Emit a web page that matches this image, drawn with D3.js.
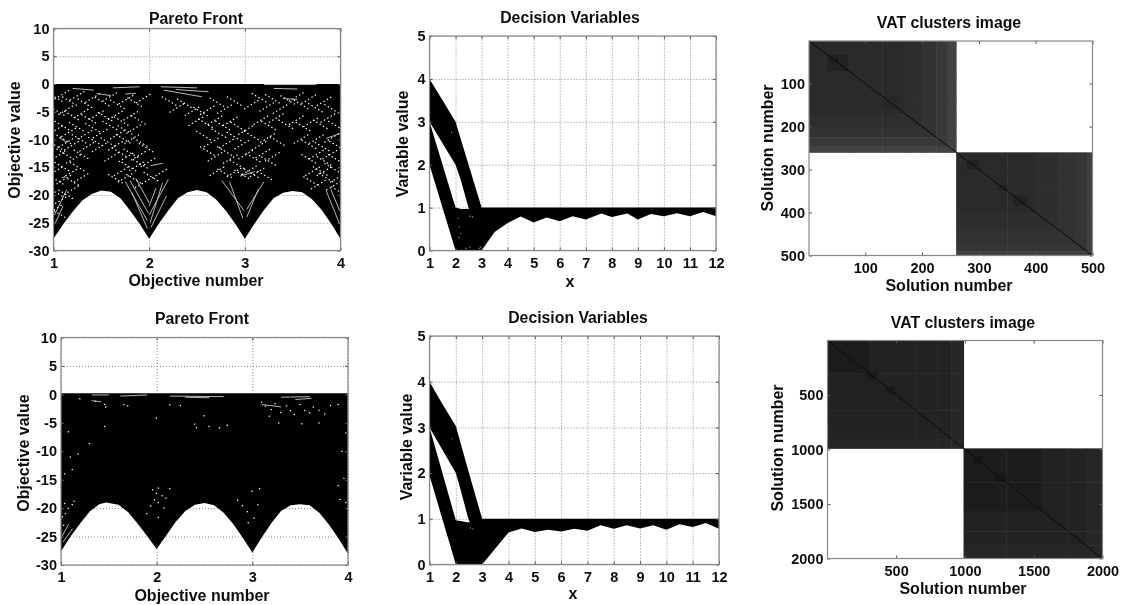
<!DOCTYPE html>
<html lang="en">
<head>
<meta charset="UTF-8">
<title>Pareto fronts, decision variables and VAT images</title>
<script src="https://d3js.org/d3.v7.min.js"></script>
<style>
    body { margin: 0; background: #fff; }
    text { font-family: "Liberation Sans", Arial, sans-serif; font-weight: bold; fill: #111; }
    .axis path { display: none; }
    .axis line { stroke: #555; }
    .axis text { font-size: 14.5px; font-family: "Liberation Sans", Arial, sans-serif; font-weight: bold; fill: #111; }
    .grid path { display: none; }
    .grid line { stroke: #888; stroke-dasharray: 1 2; }
    .grid text { display: none; }
</style>
</head>
<body>
<svg id="chart" width="1125" height="605"></svg>
<script>
// tick labels
const objectiveTicks = [1, 2, 3, 4];
const objectiveValueTicks = [-30, -25, -20, -15, -10, -5, 0, 5, 10];
const variableTicks = [1, 2, 3, 4, 5, 6, 7, 8, 9, 10, 11, 12];
const variableValueTicks = [0, 1, 2, 3, 4, 5];
const solutionTicks500 = [100, 200, 300, 400, 500];
const solutionTicks2000 = [500, 1000, 1500, 2000];

// Pareto front, lower edge of the bundle of lines [objective, value]
const paretoLowerTop = [[1, -27.8], [1.05, -26.6], [1.1, -25.3], [1.2, -23], [1.3, -21], [1.4, -19.8], [1.5, -19.2], [1.6, -19.4], [1.7, -20.6], [1.8, -22.8], [1.9, -25.2], [2, -27.9], [2.1, -25.2], [2.2, -22.8], [2.3, -20.6], [2.4, -19.5], [2.5, -19.1], [2.6, -19.5], [2.7, -20.8], [2.8, -22.8], [2.9, -25.2], [3, -27.9], [3.1, -25.2], [3.2, -22.7], [3.3, -20.6], [3.4, -19.6], [3.5, -19.3], [3.6, -19.5], [3.7, -20.7], [3.8, -22.6], [3.9, -25.1], [4, -27.9]];
const paretoLowerBottom = [[1, -27.6], [1.1, -25], [1.2, -22.7], [1.3, -20.6], [1.4, -19.3], [1.47, -19], [1.6, -19.4], [1.7, -20.7], [1.8, -22.7], [1.9, -24.9], [2, -27.2], [2.1, -24.8], [2.2, -22.4], [2.3, -20.5], [2.4, -19.4], [2.5, -19.1], [2.6, -19.5], [2.7, -20.8], [2.8, -22.8], [2.9, -25.2], [3, -27.8], [3.1, -25.1], [3.2, -22.6], [3.3, -20.5], [3.4, -19.5], [3.5, -19.3], [3.6, -19.5], [3.7, -20.8], [3.8, -22.9], [3.9, -25.3], [4, -28]];
const paretoTopEdge = [[1, 0], [2, 0], [3, 0], [4, 0]];
const paretoTopEdgeBottom = [[1, 0.2], [2, 0.2], [3, 0.2], [4, 0.2]];

// light gaps between the lines, top row [objective, value]
const specksTop = [
  [1.03, -2.5], [1.1, -1.8], [1.18, -3.2], [1.26, -2], [1.34, -3.6], [1.42, -2.4], [1.52, -3.3], [1.6, -2.2], [1.68, -3.8], [1.77, -2.7], [1.86, -3.4], [1.95, -2.5],
  [1.05, -5], [1.14, -4.6], [1.2, -5.8], [1.3, -5.2], [1.38, -6.4], [1.46, -5.5], [1.55, -6], [1.66, -5.5], [1.72, -6.8], [1.82, -5.6], [1.9, -6.6],
  [1.03, -8.2], [1.1, -7.6], [1.17, -8.6], [1.25, -7.8], [1.34, -9], [1.42, -8], [1.5, -8.8], [1.6, -7.6], [1.68, -9], [1.76, -8.4], [1.85, -8],
  [1.12, -10.1], [1.14, -10.5], [1.06, -11.5], [1.2, -11], [1.28, -10], [1.36, -11.2], [1.45, -10.5], [1.49, -11.3], [1.58, -10.6], [1.66, -11], [1.74, -10], [1.83, -9.8], [1.92, -10.6],
  [1.04, -13], [1.12, -12.6], [1.22, -13.4], [1.3, -12.8], [1.62, -13], [1.7, -12.4], [1.77, -13.1], [1.82, -12.6], [1.9, -12.8], [1.98, -11.6],
  [1.03, -15.6], [1.1, -15], [1.18, -16], [1.26, -15], [1.72, -15.6], [1.8, -15], [1.88, -14.7], [1.92, -14.5], [2.0, -14],
  [1.04, -17.4], [1.12, -17.1], [1.2, -17.6], [1.3, -16.8], [1.66, -17.2], [1.76, -16.8], [1.85, -17.2], [1.94, -17.8], [2.03, -16.8], [2.12, -16],
  [1.03, -19.6], [1.07, -21], [1.14, -20], [1.02, -22.5], [1.06, -23.4], [1.2, -19],
  [2.22, -3.2], [2.3, -4.2], [2.38, -3.6], [2.46, -4.8], [2.55, -5.1], [2.62, -4.6], [2.72, -3.4], [2.8, -4.4], [2.9, -3.2],
  [2.5, -6.6], [2.6, -7.2], [2.7, -6.4], [2.78, -7.6], [2.86, -6.6], [2.94, -7.8], [3.02, -8.2],
  [2.58, -9.4], [2.66, -10.4], [2.74, -9], [2.82, -10.6], [2.9, -9.6], [2.98, -10.8], [3.08, -9.4], [3.16, -11],
  [2.62, -12.2], [2.7, -13], [2.8, -12.2], [2.86, -13.4], [2.93, -14.6], [3.02, -12.6], [3.1, -13.4], [3.2, -12.4], [3.26, -14],
  [2.72, -15.6], [2.8, -16.2], [2.9, -15.8], [2.98, -16.4], [3.06, -15.4], [3.08, -16.2], [3.14, -15.8], [3.22, -16.6],
  [3.08, -3.6], [3.16, -2.6], [3.24, -4], [3.3, -2.8], [3.38, -4.4], [3.46, -3], [3.55, -2.2], [3.6, -3.8], [3.68, -2.6], [3.75, -4.4], [3.84, -3], [3.92, -4.6],
  [3.18, -6.4], [3.26, -7.6], [3.34, -6], [3.44, -7.4], [3.55, -6.4], [3.62, -7.8], [3.7, -6.8], [3.8, -7.4], [3.88, -6], [3.96, -7.6],
  [3.25, -9.6], [3.35, -10.4], [3.6, -9.8], [3.68, -11], [3.76, -9.8], [3.82, -11.4], [3.92, -9.6], [3.97, -11.2],
  [3.3, -13], [3.68, -13.6], [3.76, -12.6], [3.84, -14], [3.9, -12.6], [3.96, -13.6], [3.72, -15.6], [3.8, -15.8], [3.84, -15.6], [3.92, -15.2], [3.98, -16.8],
  [3.7, -17.6], [3.78, -18], [3.86, -17], [3.94, -18.2], [3.99, -19.4]
];

// longer light streaks, top row [objective1, value1, objective2, value2]
const streaksTop = [
  [1.2, -0.8, 1.42, -1.1], [1.62, -0.7, 1.9, -0.5], [1.75, -1.8, 1.86, -1.7], [1.45, -1.7, 1.6, -2.1],
  [2.12, -0.5, 2.5, -0.7], [2.15, -1.1, 2.55, -2.3], [2.28, -1, 2.62, -1.4], [3.2, -0.1, 3.75, -0.1], [3.3, -0.8, 3.55, -0.9], [3.4, -2.6, 3.55, -2.8],
  [3.85, -9.8, 4, -8.9], [1.06, -9.7, 1.14, -10.5], [2.02, -14.7, 2.14, -14.3], [2.95, -16.6, 3.1, -15.8],
  [1.75, -17.6, 1.98, -24.6], [1.8, -17.4, 1.99, -23.2], [1.86, -17, 2, -21.4], [2.2, -17.2, 2, -23.6], [2.14, -17.8, 2.01, -25], [2.07, -18.8, 2, -22],
  [1.82, -19.6, 1.98, -26], [2.18, -20.2, 2.02, -25.8], [2.76, -17.4, 2.99, -22.8], [2.84, -17.6, 2.98, -24.2], [3.2, -17.6, 3.02, -22.6], [3.14, -19, 3.02, -24],
  [3.85, -19.2, 3.99, -25.2], [3.9, -19, 3.99, -22.8], [1.1, -22, 1.02, -25], [1.14, -19, 1.01, -23.6]
];

// light gaps, bottom row
const specksBottom = [
  [1.2, -0.8], [1.36, -1.2], [1.46, -1.8], [1.47, -2.2], [1.66, -1.8], [1.7, -2], [2.0, -4.2], [2.14, -1.8], [2.25, -2], [2.4, -5.2], [2.42, -5.9], [2.55, -5.6], [2.66, -5.9], [2.74, -5.4], [2.5, -3.8], [1.46, -5.6], [1.08, -6.6], [1.3, -8.6],
  [3.1, -1.4], [3.14, -2], [3.2, -2.7], [3.24, -1.6], [3.3, -3.2], [3.36, -2], [3.4, -2.9], [3.44, -3.5], [3.5, -1.8], [3.55, -2.8], [3.6, -3.3], [3.64, -2.2], [3.7, -2.8], [3.76, -3.4], [3.82, -2], [3.18, -3.8], [3.9, -1.8], [3.28, -5], [3.52, -5.2], [3.7, -5],
  [1.04, -14], [1.12, -13.2], [1.18, -10.5], [1.1, -11], [1.96, -16.8], [2.0, -17.4], [2.02, -16.5], [2.06, -17.8], [1.98, -18.6], [2.1, -18.2], [2.14, -16.6], [2.02, -19], [2.08, -20], [1.94, -19.6], [1.9, -21], [2.02, -21.6],
  [1.04, -19.2], [1.08, -20], [1.12, -19.4], [1.02, -21.5], [1.05, -21], [1.03, -23], [1.14, -18.8],
  [2.85, -18.6], [2.9, -19.6], [2.95, -20.6], [3.02, -21.8], [3.06, -19.4], [2.96, -22.6], [3, -17], [3.08, -16.6], [3.9, -16], [3.96, -14.8], [3.98, -19], [3.92, -18.5], [3.94, -10], [3.98, -6.8]
];
const streaksBottom = [
  [1.32, -0.1, 1.5, -0.1], [1.62, -0.3, 1.9, -0.1], [1.32, -1.1, 1.42, -1.3], [2.14, -0.3, 2.7, -0.4], [2.3, -0.5, 2.55, -0.6], [3.3, -0.5, 3.6, -0.4], [3.45, -0.9, 3.62, -0.7], [3.1, -1.8, 3.3, -2.2],
  [1.01, -25, 1.08, -22.8], [1.02, -26, 1.12, -23.6]
];

// Decision variables, outer edges of the bundles [x, value]
const topUpperBand = [[1, 4], [1.5, 3.5], [2, 3], [2.5, 2], [3, 1], [2.6, 0.8], [2.45, 1.1], [2.2, 1.65], [2, 2], [1.5, 2.5], [1, 3]];
const topLowerBand = [[1, 3], [2, 1], [2.2, 0.97], [2.5, 0.97], [3, 1], [4, 1], [5, 1], [6, 1], [7, 1], [8, 1], [9, 1], [10, 1], [11, 1], [12, 1], [12, 0.8], [11.5, 0.9], [11, 0.8], [10.5, 0.87], [10, 0.8], [9.5, 0.85], [9, 0.72], [8.6, 0.86], [8, 0.78], [7.6, 0.86], [7, 0.72], [6.5, 0.8], [6, 0.68], [5.5, 0.77], [5, 0.65], [4.5, 0.79], [4, 0.64], [3.5, 0.43], [3, 0], [2, 0], [1, 2]];
const bottomUpperBand = [[1, 4], [1.5, 3.5], [2, 3.03], [2.5, 2], [3, 1], [2.6, 0.8], [2.45, 1.05], [2.2, 1.6], [2, 2], [1.5, 2.5], [1, 3]];
const bottomLowerBand = [[1, 3], [2, 0.97], [2.5, 0.92], [3, 1], [4, 1], [5, 1], [6, 1], [7, 1], [8, 1], [9, 1], [10, 1], [11, 1], [12, 1], [12, 0.78], [11.5, 0.91], [11, 0.82], [10.5, 0.88], [10, 0.76], [9.5, 0.86], [9, 0.79], [8.5, 0.86], [8, 0.78], [7.5, 0.86], [7, 0.74], [6.5, 0.78], [6, 0.72], [5.5, 0.76], [5, 0.71], [4.5, 0.79], [4, 0.7], [3, 0], [2, 0], [1, 1.95]];
const variableSpecks = [[2.1, 0.75], [2.15, 0.55], [2.2, 0.4], [2.12, 0.3], [2.4, 0.05], [2.55, 0.08], [2.9, 0.05], [2.95, 0.08], [1.85, 2.75], [2.55, 0.8], [2.65, 0.78]];

// VAT images, band edges along each cluster and their dissimilarity
const vatBreaks500 = [1, 80, 130, 170, 200, 225, 245, 260, 300, 350, 400, 440, 470, 490, 500];
const vatLevels500 = [0.16, 0.17, 0.17, 0.18, 0.19, 0.22, 0.26, 0.16, 0.16, 0.17, 0.18, 0.19, 0.21, 0.25];
const vatDarkSpots500 = [[33, 70, 0.135], [38, 52, 0.1], [130, 160, 0.15], [278, 300, 0.14], [335, 350, 0.13], [360, 385, 0.125]];
const vatClusters500 = [[1, 260], [260, 500]];
const vatBreaks2000 = [1, 300, 640, 800, 900, 990, 1300, 1560, 1750, 1880, 2000];
const vatLevels2000 = [0.12, 0.13, 0.13, 0.14, 0.15, 0.11, 0.12, 0.13, 0.14, 0.15];
const vatDarkSpots2000 = [[280, 360, 0.105], [420, 490, 0.105], [1060, 1130, 0.095], [1220, 1300, 0.095]];
const vatClusters2000 = [[1, 990], [990, 2000]];

const svg = d3.select("#chart");

const defs = svg.append("defs");
defs.append("filter")
    .attr("id", "soft")
    .attr("filterUnits", "userSpaceOnUse")
    .attr("x", 0).attr("y", 0).attr("width", 1125).attr("height", 605)
    .append("feGaussianBlur")
    .attr("stdDeviation", 0.55);

const root = svg.append("g").attr("filter", "url(#soft)");

function addText(str, x, y, size, rotate) {
    const t = root.append("text")
        .attr("text-anchor", "middle")
        .attr("dy", ".35em")
        .style("font-size", size + "px")
        .text(str);
    if (rotate) t.attr("transform", `translate(${x},${y}) rotate(-90)`);
    else t.attr("x", x).attr("y", y);
}

// one plot frame with its axes; returns a group for the marks
function makePanel(box, xScale, yScale, xTicks, yTicks, withGrid) {
    const w = box.right - box.left;
    const h = box.bottom - box.top;
    const g = root.append("g").attr("transform", `translate(${box.left},${box.top})`);
    xScale.range([0, w]);
    yScale.range(withGrid ? [h, 0] : [0, h]); // the image panels count downward

    if (withGrid) {
        g.append("g").attr("class", "grid")
            .attr("transform", `translate(0,${h})`)
            .call(d3.axisBottom(xScale).tickValues(xTicks).tickSize(-h));
        g.append("g").attr("class", "grid")
            .call(d3.axisLeft(yScale).tickValues(yTicks).tickSize(-w));
    }
    const marks = g.append("g");
    const label = d => String(d);
    g.append("g").attr("class", "axis")
        .attr("transform", `translate(0,${h})`)
        .call(d3.axisBottom(xScale).tickValues(xTicks).tickFormat(label).tickSizeInner(-3).tickSizeOuter(0).tickPadding(7));
    g.append("g").attr("class", "axis")
        .call(d3.axisLeft(yScale).tickValues(yTicks).tickFormat(label).tickSizeInner(-3).tickSizeOuter(0).tickPadding(4));
    // the box repeats the ticks along its top and right
    g.append("g").attr("class", "axis")
        .call(d3.axisTop(xScale).tickValues(xTicks).tickFormat("").tickSizeInner(-3).tickSizeOuter(0));
    g.append("g").attr("class", "axis")
        .attr("transform", `translate(${w},0)`)
        .call(d3.axisRight(yScale).tickValues(yTicks).tickFormat("").tickSizeInner(-3).tickSizeOuter(0));
    g.append("rect")
        .attr("width", w).attr("height", h)
        .attr("fill", "none")
        .attr("stroke", "#888")
        .attr("stroke-width", 1.2);
    return marks;
}

function drawPareto(box, lower, upper, specks, streaks, trail) {
    const x = d3.scaleLinear().domain([1, 4]);
    const y = d3.scaleLinear().domain([-30, 10]);
    const marks = makePanel(box, x, y, objectiveTicks, objectiveValueTicks, true);

    const line = d3.line().x(d => x(d[0])).y(d => y(d[1]));
    marks.append("path")
        .attr("d", line(upper.concat(lower.slice().reverse())) + "Z")
        .attr("fill", "#000");

    // each gap is drawn as a short dotted run, the lines leave strings of small holes
    marks.selectAll(".speck").data(specks).enter().append("line")
        .attr("class", "speck")
        .attr("x1", d => x(d[0]) - trail)
        .attr("x2", d => x(d[0]) + trail)
        .attr("y1", (d, i) => y(d[1]) + (i % 2 ? trail * 0.6 : -trail * 0.6))
        .attr("y2", (d, i) => y(d[1]) + (i % 2 ? -trail * 0.6 : trail * 0.6))
        .attr("stroke", "#fff")
        .attr("stroke-width", 1.3)
        .attr("stroke-linecap", "round")
        .attr("stroke-dasharray", "0.3 3.6");

    marks.selectAll(".streak").data(streaks).enter().append("line")
        .attr("class", "streak")
        .attr("x1", d => x(d[0])).attr("y1", d => y(d[1]))
        .attr("x2", d => x(d[2])).attr("y2", d => y(d[3]))
        .attr("stroke", "#ccc")
        .attr("stroke-width", 0.9);
}

function drawVariables(box, upperBand, lowerBand, specks) {
    const x = d3.scaleLinear().domain([1, 12]);
    const y = d3.scaleLinear().domain([0, 5]);
    const marks = makePanel(box, x, y, variableTicks, variableValueTicks, true);
    const line = d3.line().x(d => x(d[0])).y(d => y(d[1]));
    [upperBand, lowerBand].forEach(band => {
        marks.append("path").attr("d", line(band) + "Z").attr("fill", "#000");
    });
    marks.selectAll(".speck").data(specks).enter().append("circle")
        .attr("class", "speck")
        .attr("cx", d => x(d[0]))
        .attr("cy", d => y(d[1]))
        .attr("r", 0.7)
        .attr("fill", "#999");
}

function drawVat(box, n, ticks, breaks, levels, spots, clusters) {
    const x = d3.scaleLinear().domain([1, n]);
    const y = d3.scaleLinear().domain([1, n]);
    const marks = makePanel(box, x, y, ticks, ticks, false);
    const gray = d3.scaleLinear().domain([0, 1]).range(["#000", "#fff"]);

    clusters.forEach(c => {
        const cells = [];
        levels.forEach((li, i) => {
            levels.forEach((lj, j) => {
                if (breaks[i] >= c[0] && breaks[i + 1] <= c[1] && breaks[j] >= c[0] && breaks[j + 1] <= c[1]) {
                    cells.push({ x0: breaks[i], x1: breaks[i + 1], y0: breaks[j], y1: breaks[j + 1], v: Math.max(li, lj) });
                }
            });
        });
        marks.selectAll(null).data(cells).enter().append("rect")
            .attr("x", d => x(d.x0))
            .attr("y", d => y(d.y0))
            .attr("width", d => x(d.x1) - x(d.x0) + 0.5)
            .attr("height", d => y(d.y1) - y(d.y0) + 0.5)
            .attr("fill", d => gray(d.v));
    });

    marks.selectAll(".spot").data(spots).enter().append("rect")
        .attr("class", "spot")
        .attr("x", d => x(d[0]))
        .attr("y", d => y(d[0]))
        .attr("width", d => x(d[1]) - x(d[0]))
        .attr("height", d => y(d[1]) - y(d[0]))
        .attr("fill", d => gray(d[2]));

    marks.selectAll(".diag").data(clusters).enter().append("line")
        .attr("class", "diag")
        .attr("x1", d => x(d[0])).attr("y1", d => y(d[0]))
        .attr("x2", d => x(d[1])).attr("y2", d => y(d[1]))
        .attr("stroke", gray(0.04))
        .attr("stroke-width", 1);
}

drawPareto({ left: 53.5, right: 340.5, top: 28.5, bottom: 250.5 }, paretoLowerTop, paretoTopEdge, specksTop, streaksTop, 8);
addText("Pareto Front", 196, 18, 15.8);
addText("Objective number", 196, 280, 16);
addText("Objective value", 14, 140, 16, true);

drawVariables({ left: 429.5, right: 716, top: 36, bottom: 250.5 }, topUpperBand, topLowerBand, variableSpecks);
addText("Decision Variables", 570, 17, 15.8);
addText("x", 570, 281, 16);
addText("Variable value", 402, 144, 16, true);

drawVat({ left: 809, right: 1092.5, top: 41, bottom: 255.5 }, 500, solutionTicks500, vatBreaks500, vatLevels500, vatDarkSpots500, vatClusters500);
addText("VAT clusters image", 949, 22, 15.8);
addText("Solution number", 949, 285, 16);
addText("Solution number", 767, 148, 16, true);

drawPareto({ left: 61, right: 348, top: 337.5, bottom: 565 }, paretoLowerBottom, paretoTopEdgeBottom, specksBottom, streaksBottom, 0.4);
addText("Pareto Front", 202, 318, 15.8);
addText("Objective number", 202, 595, 16);
addText("Objective value", 23, 453, 16, true);

drawVariables({ left: 429.5, right: 719, top: 336, bottom: 564.5 }, bottomUpperBand, bottomLowerBand, variableSpecks.slice(8));
addText("Decision Variables", 578, 317, 15.8);
addText("x", 573, 593, 16);
addText("Variable value", 406, 447, 16, true);

drawVat({ left: 827.5, right: 1102.5, top: 340.5, bottom: 558.5 }, 2000, solutionTicks2000, vatBreaks2000, vatLevels2000, vatDarkSpots2000, vatClusters2000);
addText("VAT clusters image", 963, 322, 15.8);
addText("Solution number", 963, 588, 16);
addText("Solution number", 777, 448, 16, true);
</script>
</body>
</html>
